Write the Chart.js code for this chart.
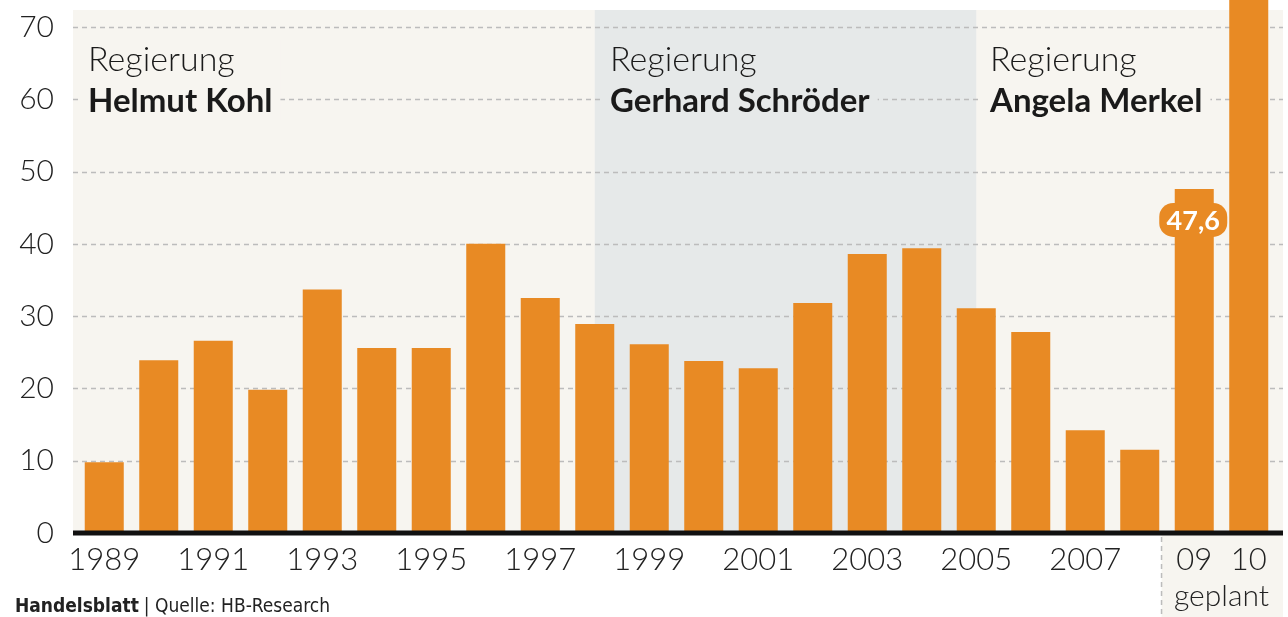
<!DOCTYPE html>
<html>
<head>
<meta charset="utf-8">
<script src="https://cdn.jsdelivr.net/npm/chart.js@4"></script>
<style>
    body { margin: 0; background: #ffffff; }
    canvas { display: block; }
</style>
</head>
<body>
<canvas id="chart" width="1288" height="617"></canvas>
<script>
// Nettokreditaufnahme in Mrd. Euro
const years = ["1989", "1990", "1991", "1992", "1993", "1994", "1995", "1996", "1997", "1998", "1999",
    "2000", "2001", "2002", "2003", "2004", "2005", "2006", "2007", "2008", "2009", "2010"];
const values = [9.8, 23.9, 26.6, 19.8, 33.7, 25.6, 25.6, 40.0, 32.5, 28.9, 26.1,
    23.8, 22.8, 31.8, 38.6, 39.4, 31.1, 27.8, 14.2, 11.5, 47.6, 86.1];
const tickLabels = ["1989", "", "1991", "", "1993", "", "1995", "", "1997", "", "1999",
    "", "2001", "", "2003", "", "2005", "", "2007", "", "09", "10"];
const yTicks = [0, 10, 20, 30, 40, 50, 60, 70];
const governments = [
    { name: "Helmut Kohl", from: "1989" },
    { name: "Gerhard Schröder", from: "1998" },
    { name: "Angela Merkel", from: "2005" }
];
const highlightYear = "2009";
const plannedFrom = "2009";

const ORANGE = "#e88a24";
const CREAM = "#f7f5f0";
const GREY_BAND = "#e6e9e9";
const FONT = "Lato, 'Open Sans', sans-serif";
const NARROW = "'Liberation Sans Narrow', 'DejaVu Sans Condensed', sans-serif";

const backdrop = {
    id: "backdrop",
    beforeDraw(chart) {
        const ctx = chart.ctx;
        const x = chart.scales.x;
        const y = chart.scales.y;
        const left = 73, right = 1283, top = 10, bottom = y.getPixelForValue(0);
        const sStart = x.getPixelForValue(years.indexOf(governments[1].from));
        const sEnd = x.getPixelForValue(years.indexOf(governments[2].from));
        const planX = x.getPixelForValue(years.indexOf(plannedFrom) - 0.6);

        ctx.save();
        ctx.fillStyle = CREAM;
        ctx.fillRect(left, top, right - left, bottom - top);
        ctx.fillRect(planX, bottom, right - planX, 617 - bottom);
        ctx.fillStyle = GREY_BAND;
        ctx.fillRect(sStart, top, sEnd - sStart, bottom - top);

        // gestrichelte Gitterlinien
        ctx.strokeStyle = "#bcbcbc";
        ctx.lineWidth = 1.5;
        ctx.setLineDash([5, 4]);
        yTicks.forEach(function (v) {
            if (v === 0) return;
            const py = Math.round(y.getPixelForValue(v)) + 0.5;
            ctx.beginPath();
            ctx.moveTo(left, py);
            ctx.lineTo(right, py);
            ctx.stroke();
        });
        ctx.beginPath();
        ctx.moveTo(planX, bottom + 4);
        ctx.lineTo(planX, 617);
        ctx.stroke();
        ctx.setLineDash([]);

        // Regierungs-Beschriftungen mit Freistellung
        const starts = [88, 610, 990];
        const bgs = [CREAM, GREY_BAND, CREAM];
        governments.forEach(function (g, i) {
            const tx = starts[i];
            ctx.font = "300 34px " + FONT;
            const w1 = ctx.measureText("Regierung").width;
            ctx.font = "bold 33px " + FONT;
            const w2 = ctx.measureText(g.name).width;
            ctx.fillStyle = bgs[i];
            ctx.fillRect(tx - 8, 40, Math.max(w1, w2) + 16, 80);
            ctx.fillStyle = "#1a1a1a";
            ctx.textBaseline = "alphabetic";
            ctx.textAlign = "left";
            ctx.font = "300 34px " + FONT;
            ctx.fillText("Regierung", tx, 71);
            ctx.font = "bold 33px " + FONT;
            ctx.fillText(g.name, tx, 112);
        });
        ctx.restore();
    },
    afterDatasetsDraw(chart) {
        const ctx = chart.ctx;
        const x = chart.scales.x;
        const y = chart.scales.y;
        const base = y.getPixelForValue(0);
        ctx.save();
        // Nulllinie
        ctx.fillStyle = "#111111";
        ctx.fillRect(73, base - 2.5, 1283 - 73, 5);

        // Wertmarke 2009
        const i = years.indexOf(highlightYear);
        const bar = chart.getDatasetMeta(0).data[i];
        const label = values[i].toFixed(1).replace(".", ",");
        const cy = bar.y + 31;
        const pw = 68, ph = 34;
        ctx.fillStyle = ORANGE;
        ctx.beginPath();
        ctx.roundRect(bar.x - pw / 2 - 1, cy - ph / 2, pw, ph, 14);
        ctx.fill();
        ctx.fillStyle = "#ffffff";
        ctx.font = "bold 27px " + FONT;
        ctx.textAlign = "center";
        ctx.textBaseline = "middle";
        ctx.fillText(label, bar.x - 1, cy + 1);

        // geplant
        const gx = (x.getPixelForValue(i) + x.getPixelForValue(i + 1)) / 2;
        ctx.fillStyle = "#222222";
        ctx.font = "300 30px " + FONT;
        ctx.textBaseline = "alphabetic";
        ctx.fillText("geplant", gx, 606);

        // Quelle
        ctx.textAlign = "left";
        ctx.font = "bold 19px " + NARROW;
        ctx.fillText("Handelsblatt", 15, 612);
        const hw = ctx.measureText("Handelsblatt").width;
        ctx.font = "19px " + NARROW;
        ctx.fillText("| Quelle: HB-Research", 15 + hw + 5, 612);
        ctx.restore();
    }
};

new Chart(document.getElementById("chart"), {
    type: "bar",
    data: {
        labels: years,
        datasets: [{
            data: values,
            backgroundColor: ORANGE,
            borderWidth: 0,
            barPercentage: 0.716,
            categoryPercentage: 1.0
        }]
    },
    options: {
        responsive: false,
        devicePixelRatio: 1,
        animation: false,
        layout: { padding: { left: 0, right: 12, top: 0, bottom: 0 } },
        plugins: {
            legend: { display: false },
            tooltip: { enabled: false }
        },
        scales: {
            x: {
                offset: true,
                grid: { display: false, drawTicks: false },
                border: { display: false },
                ticks: {
                    autoSkip: false,
                    maxRotation: 0,
                    padding: 8,
                    color: "#222222",
                    font: { family: FONT, size: 31, weight: "300" },
                    callback: function (value, index) {
                        return tickLabels[index];
                    }
                },
                afterFit: function (scale) {
                    scale.height = 84;
                    scale.paddingLeft = 0;
                    scale.paddingRight = 0;
                }
            },
            y: {
                min: 0,
                max: 73.73,
                grid: { display: false, drawTicks: false },
                border: { display: false },
                ticks: {
                    stepSize: 10,
                    padding: 23,
                    color: "#222222",
                    font: { family: FONT, size: 30, weight: "300" }
                },
                afterBuildTicks: function (scale) {
                    scale.ticks = yTicks.map(function (v) { return { value: v }; });
                },
                afterFit: function (scale) {
                    scale.width = 77;
                    scale.paddingTop = 0;
                    scale.paddingBottom = 0;
                }
            }
        }
    },
    plugins: [backdrop]
});
</script>
</body>
</html>
